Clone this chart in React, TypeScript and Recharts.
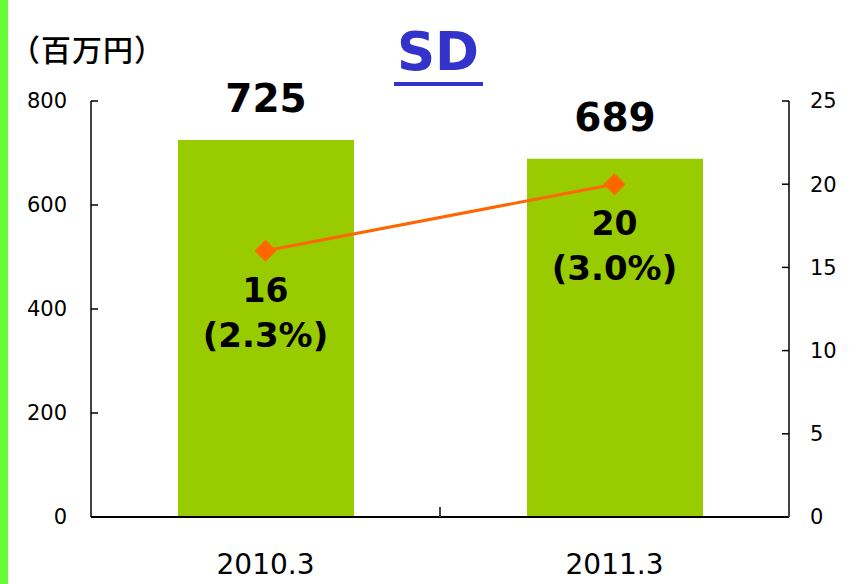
import React from 'react';
import { ComposedChart, Bar, Line, XAxis, YAxis, LabelList } from 'recharts';

const categories = ['2010.3', '2011.3'];
const sales = [725, 689];
const profit = [16, 20];
const profitRatio = ['(2.3%)', '(3.0%)'];
const leftTicks = [0, 200, 400, 600, 800];
const rightTicks = [0, 5, 10, 15, 20, 25];

const data = categories.map((c, i) => ({
  name: c,
  sales: sales[i],
  profit: profit[i],
  ratio: profitRatio[i],
}));

const SANS = '"DejaVu Sans", sans-serif';

const BarLabel = (props: any) => {
  const { x, y, width, value } = props;
  return (
    <text
      x={x + width / 2}
      y={y - 28}
      textAnchor="middle"
      fontFamily={SANS}
      fontWeight="bold"
      fontSize={39}
      fill="#000"
    >
      {value}
    </text>
  );
};

const LineLabel = (props: any) => {
  const { x, y, value, index } = props;
  return (
    <g>
      <text x={x} y={y + 51} textAnchor="middle" fontFamily={SANS} fontWeight="bold" fontSize={33} fill="#000">
        {value}
      </text>
      <text x={x} y={y + 96} textAnchor="middle" fontFamily={SANS} fontWeight="bold" fontSize={34} fill="#000">
        {profitRatio[index]}
      </text>
    </g>
  );
};

const Diamond = (props: any) => {
  const { cx, cy } = props;
  if (cx == null || cy == null) return null;
  const r = 11;
  return (
    <polygon
      points={`${cx},${cy - r} ${cx + r},${cy} ${cx},${cy + r} ${cx - r},${cy}`}
      fill="#ff6600"
      stroke="none"
    />
  );
};

const CatTick = (props: any) => {
  const { x, y, payload } = props;
  const off = payload && typeof payload.offset === 'number' ? payload.offset : 0;
  return (
    <g>
      {off > 0 && (
        <line x1={x + off} y1={y} x2={x + off} y2={y - 10} stroke="#444" strokeWidth={2} />
      )}
      <text x={x} y={y + 57} textAnchor="middle" fontFamily={SANS} fontSize={28} fill="#000">
        {payload.value}
      </text>
    </g>
  );
};

export default function App() {
  return (
    <div style={{ position: 'absolute', left: 0, top: 0, width: 856, height: 584, background: '#fff' }}>
      <div style={{ position: 'absolute', left: 0, top: 0, width: 8, height: 584, background: '#66ff33' }} />
      <ComposedChart
        width={856}
        height={584}
        data={data}
        margin={{ top: 101, right: 7, bottom: 7, left: 20 }}
      >
        <XAxis
          dataKey="name"
          height={60}
          axisLine={{ stroke: '#000', strokeWidth: 2 }}
          tickLine={false}
          tickSize={0}
          tickMargin={0}
          tick={<CatTick />}
          interval={0}
        />
        <YAxis
          yAxisId="left"
          orientation="left"
          width={71}
          domain={[0, 800]}
          ticks={leftTicks}
          axisLine={{ stroke: '#000', strokeWidth: 1.5 }}
          tickLine={{ stroke: '#000', strokeWidth: 1.5 }}
          tickSize={-7}
          tickMargin={31}
          tick={{ fontFamily: SANS, fontSize: 21, fill: '#000' }}
          interval={0}
        />
        <YAxis
          yAxisId="right"
          orientation="right"
          width={60}
          domain={[0, 25]}
          ticks={rightTicks}
          axisLine={{ stroke: '#000', strokeWidth: 1.5 }}
          tickLine={{ stroke: '#000', strokeWidth: 1.5 }}
          tickSize={-7}
          tickMargin={28}
          tick={{ fontFamily: SANS, fontSize: 21, fill: '#000' }}
          interval={0}
        />
        <Bar yAxisId="left" dataKey="sales" fill="#99cc00" barSize={176} isAnimationActive={false}>
          <LabelList dataKey="sales" content={<BarLabel />} />
        </Bar>
        <Line
          yAxisId="right"
          dataKey="profit"
          stroke="#ff6600"
          strokeWidth={3}
          dot={<Diamond />}
          activeDot={false}
          isAnimationActive={false}
        >
          <LabelList dataKey="profit" content={<LineLabel />} />
        </Line>
      </ComposedChart>
      <svg
        width={856}
        height={584}
        style={{ position: 'absolute', left: 0, top: 0, pointerEvents: 'none' }}
      >
        <text x={10} y={61} fontFamily='"Noto Sans CJK JP", sans-serif' fontSize={30} fontWeight={500} letterSpacing={1} fill="#000">
          （百万円）
        </text>
        <text x={438} y={70} textAnchor="middle" fontFamily={SANS} fontWeight="bold" fontSize={53} fill="#3333cc">
          SD
        </text>
        <rect x={394} y={82} width={89} height={4} fill="#3333cc" />
      </svg>
    </div>
  );
}
